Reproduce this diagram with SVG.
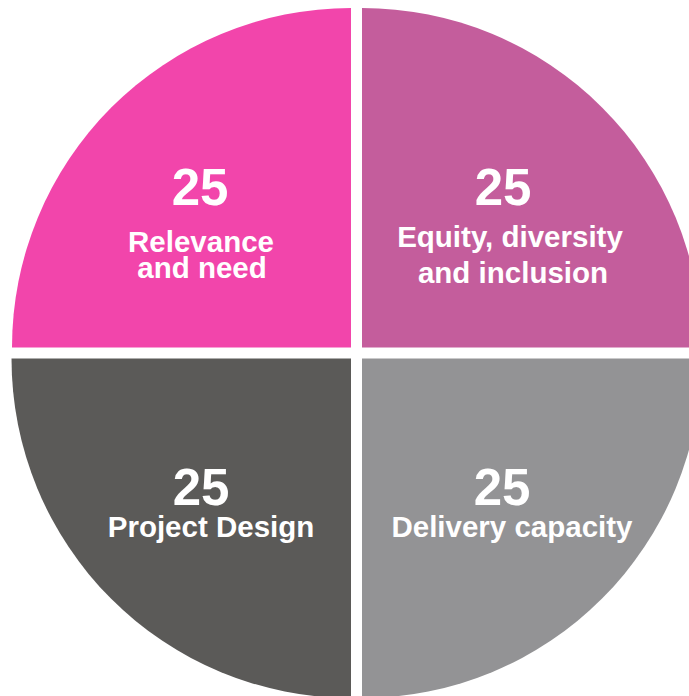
<svg xmlns="http://www.w3.org/2000/svg" width="689" height="696" viewBox="0 0 689 696">
<style>
.num{font-family:"Liberation Sans",Arial,sans-serif;font-weight:bold;font-size:51px;fill:#fff;text-anchor:middle}
.lbl{font-family:"Liberation Sans",Arial,sans-serif;font-weight:bold;font-size:29.5px;fill:#fff;text-anchor:middle}
</style>
<rect width="689" height="696" fill="#fff"/>
<g id="relevance">
<path d="M351,347.5 L12,347.5 A339.5,339.5 0 0 1 351,8 Z" fill="#F245AB"/>
<text class="num" x="200" y="205">25</text>
<text class="lbl" x="201" y="252">Relevance</text>
<text class="lbl" x="202" y="278">and need</text>
</g>
<g id="equity">
<path d="M362,347.5 L362,8 A339.5,339.5 0 0 1 701.5,347.5 Z" fill="#C45D9C"/>
<text class="num" x="503" y="205">25</text>
<text class="lbl" x="510" y="247">Equity, diversity</text>
<text class="lbl" x="513" y="283">and inclusion</text>
</g>
<g id="design">
<path d="M351,358.5 L351,698 A339.5,339.5 0 0 1 11.5,358.5 Z" fill="#5B5A58"/>
<text class="num" x="201" y="505">25</text>
<text class="lbl" x="211" y="537">Project Design</text>
</g>
<g id="delivery">
<path d="M362,358.5 L701.5,358.5 A339.5,339.5 0 0 1 362,698 Z" fill="#939395"/>
<text class="num" x="502" y="505">25</text>
<text class="lbl" x="512" y="537">Delivery capacity</text>
</g>
<g id="connectors"/>
</svg>
